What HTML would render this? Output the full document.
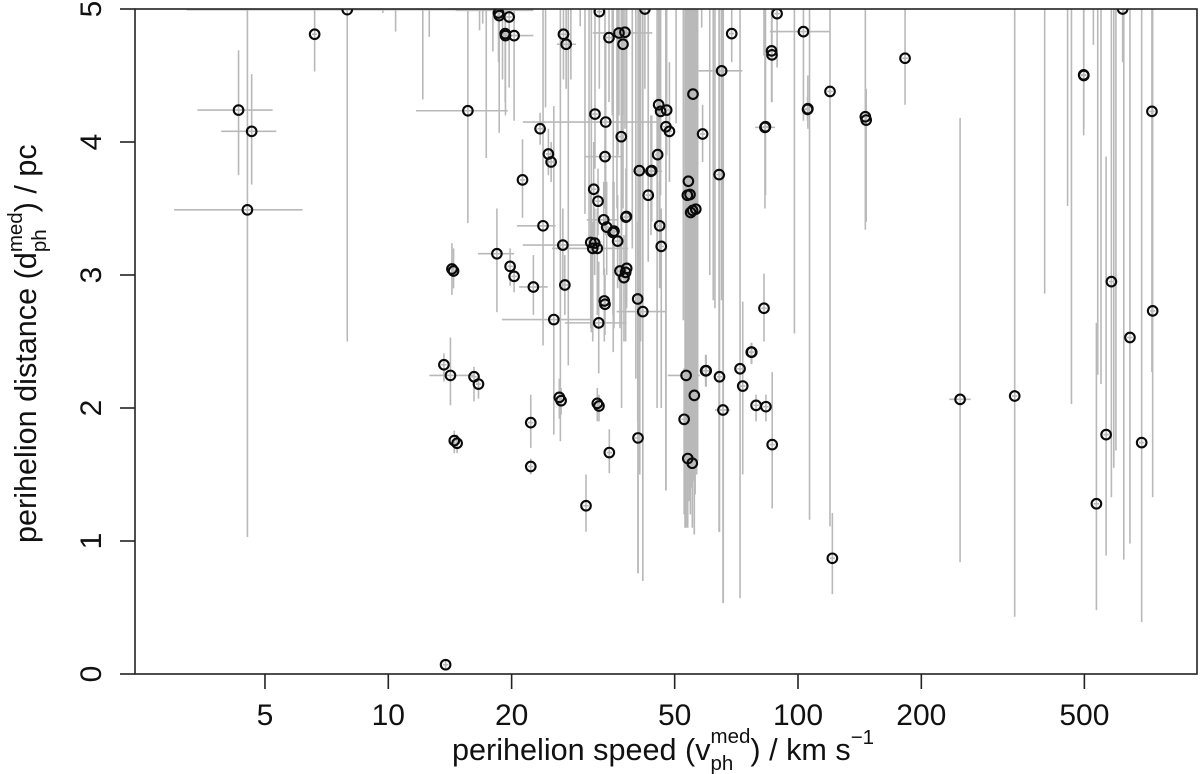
<!DOCTYPE html>
<html>
<head>
<meta charset="utf-8">
<title>Perihelion distance vs speed</title>
<style>
html,body{margin:0;padding:0;background:#fff;width:1200px;height:774px;overflow:hidden}
svg{display:block}
text{font-family:"Liberation Sans",Arial,sans-serif;fill:#111}
</style>
</head>
<body>
<svg id="chart" xmlns="http://www.w3.org/2000/svg" width="1200" height="774" viewBox="0 0 1200 774">
  <defs>
    <clipPath id="plot-clip"><rect x="135" y="9" width="1062" height="665"></rect></clipPath>
  </defs>
  <g id="bars-offscale" clip-path="url(#plot-clip)"></g>
  <g id="bars" clip-path="url(#plot-clip)"></g>
  <g id="points" clip-path="url(#plot-clip)"></g>
  <rect x="135" y="9" width="1062" height="665" fill="none" stroke="#222" stroke-width="1.6"></rect>
  <g id="x-axis"></g>
  <g id="y-axis"></g>
  <text x="452" y="760" font-size="30.6">perihelion speed (v<tspan font-size="20.5" dy="10">ph</tspan><tspan font-size="20.5" dx="-22.8" dy="-27">med</tspan><tspan dy="17">) / km s</tspan><tspan font-size="20.5" dy="-16">−1</tspan></text>
  <text transform="translate(36 543) rotate(-90)" x="0" y="0" font-size="30.6">perihelion distance (d<tspan font-size="20.5" dy="10">ph</tspan><tspan font-size="20.5" dx="-22.8" dy="-24">med</tspan><tspan dy="14">) / pc</tspan></text>
</svg>
<script>
const speed = [
4.31,4.64,4.53,6.61,7.94,13.67,13.8,14.18,14.3,14.43,
14.49,14.72,15.64,16.19,16.6,18.41,18.58,18.65,19.29,19.32,
19.72,19.83,20.28,20.28,21.26,22.27,22.27,22.6,23.47,23.86,
24.59,24.97,25.35,26.15,26.41,26.67,26.76,26.97,27.17,30.38,
31.2,31.55,31.72,31.9,31.95,32.37,32.37,32.5,32.63,32.68,
32.74,33.56,33.67,33.8,33.8,33.93,34.12,34.57,34.63,35.55,
35.35,36.29,36.56,36.77,37.04,37.4,37.6,37.81,37.96,38.02,
38.12,38.18,40.62,40.69,41,41.8,42.3,43.1,43.76,43.95,
45.44,45.7,45.95,46.2,46.37,47.6,47.8,48.55,52.73,53.32,
53.7,53.82,54,54.5,54.7,55.2,55.32,55.42,55.84,56.3,
58.5,59.5,59.7,64.2,64.33,65.1,65.6,68.9,72.2,73.3,
76.9,77.1,79,82.6,83.05,83.3,86.2,86.4,86.5,88.9,
103.1,105.5,105.7,119.7,121.3,146,146.7,182.5,248.7,338,
498,498.5,535,565,582,620,646,690,731,734,83.5];
const distance = [
4.24,4.08,3.49,4.81,4.995,2.325,0.07,2.245,3.045,3.03,
1.755,1.735,4.235,2.235,2.18,3.16,4.97,4.95,4.815,4.8,
4.94,3.065,2.99,4.8,3.715,1.89,1.56,2.91,4.1,3.37,
3.91,3.85,2.665,2.08,2.055,3.225,4.81,2.925,4.735,1.265,
3.245,3.2,3.645,3.24,4.21,3.2,2.035,3.555,2.64,2.015,
4.98,3.415,2.805,2.78,3.89,4.15,3.36,4.785,1.665,3.33,
3.32,3.255,4.82,3.03,4.04,4.735,2.98,4.825,3.02,3.435,
3.44,3.05,2.82,1.775,3.785,2.725,5,3.6,3.78,3.785,
3.905,4.28,3.37,4.23,3.215,4.115,4.24,4.08,1.915,2.245,
3.6,1.62,3.705,3.605,3.47,1.585,3.485,4.36,2.095,3.495,
4.06,2.28,2.28,3.755,2.235,4.535,1.985,4.815,2.295,2.165,
2.42,2.42,2.02,2.75,4.11,4.115,4.685,4.655,1.725,4.965,
4.83,4.245,4.25,4.38,0.87,4.19,4.165,4.63,2.065,2.09,
4.505,4.5,1.28,1.8,2.95,5,2.53,1.74,4.23,2.73,2.01];
const distLow = [
3.75,3.68,1.03,4.53,2.5,2.2,0.04,2.02,2.85,2.9,
1.66,1.66,3.39,2.05,2.07,2.72,4.6,4.07,4.3,4.2,
4.41,2.92,2.87,4.16,3.43,1.7,1.5,2.7,3.98,2.47,
3.75,3.7,1.8,1.92,1.95,2.9,4.47,2.7,4.4,1.07,
2.6,2.5,3.2,3.0,3.8,2.7,1.9,3.3,2.26,1.9,
4.4,3.0,2.5,2.55,3.5,3.3,3.0,4.3,1.51,2.6,
2.7,2.9,4.2,2.6,3.2,4.2,2.5,4.1,2.5,3.0,
3.1,2.8,1.9,0.76,2.6,0.7,4.4,3.1,3.3,3.4,
3.4,3.8,2.9,3.6,2.0,1.38,3.9,3.7,1.2,1.1,
1.9,1.1,2.0,1.9,1.7,1.1,1.5,1.5,1.05,1.6,
3.85,2.16,2.16,1.07,1.07,2.81,0.535,4.6,0.57,1.5,
2.33,2.33,1.9,2.5,3.5,3.6,4.3,4.3,1.245,4.56,
4.16,4.16,4.1,1.11,0.6,3.34,3.4,4.28,0.84,0.43,
4.05,4.1,0.48,0.89,1.33,4.6,0.98,0.39,2.27,1.33,1.9];
const distHigh = [
4.69,4.51,6,6,6,2.41,0.1,2.53,3.24,3.2,
1.83,1.8,6,2.31,2.25,3.5,6,6,6,6,
6,3.2,3.08,6,4.02,2.1,1.62,3.15,4.22,6,
4.1,4,4.27,2.22,2.15,3.5,6,3.15,6,1.5,
3.6,3.4,4,3.5,5,3.5,2.15,3.8,3.1,2.1,
6,3.7,3.05,3,4.2,4.8,3.7,6,1.84,3.7,
3.7,3.6,6,3.3,5,6,3.3,6,3.3,3.8,
3.8,3.3,3.4,2.8,6,6,6,6,4.2,4.2,
4.6,6,3.7,6,3.5,6,6,4.6,2.3,3,
6,2.5,6,6,6,2.2,6,6,3,6,
4.28,2.4,2.4,6,6,6,6,6,6,2.8,
2.49,2.49,2.1,3.01,6,6,6,6,2.27,6,
6,4.34,4.5,6,1.21,6,4.4,6,4.18,6,
6,6,2.64,3.89,6,6,6,6,6,6,2.1];
const speedLow = [
3.42,3.91,3.0,0,3.22,0,0,12.6,0,0,
0,0,11.69,0,0,16.55,0,0,0,0,
0,0,0,18.53,0,0,0,20.85,0,20.6,
0,0,18.94,0,0,21.3,25.96,0,25.8,0,
0,25.1,0,0,0,0,0,0,26.97,0,
0,30.5,0,0,30.2,21.3,0,0,0,0,
0,0,31.55,0,0,0,0,0,0,0,
0,0,0,0,0,36.08,0,0,39.6,0,
0,0,0,0,0,0,0,0,0,48.1,
0,0,0,0,0,0,0,0,0,0,
0,0,0,0,0,57.2,62.7,0,0,0,
0,0,0,0,78.5,0,0,0,0,0,
85.4,0,0,0,0,0,0,0,234,0,
0,0,0,0,0,0,0,0,0,0,0];
const speedHigh = [
5.22,5.33,6.18,0,14.7,0,0,16.2,0,0,
0,0,19.57,0,0,20.28,0,0,0,0,
0,0,0,22.6,0,0,0,24.5,0,25.6,
0,0,31.35,0,0,30.9,27.8,0,28.7,0,
0,38.5,0,0,0,0,0,0,38.18,0,
0,36.4,0,0,37.1,46,0,0,0,0,
0,0,44.1,0,0,0,0,0,0,0,
0,0,0,0,0,47.8,0,0,46.6,0,
0,0,0,0,0,0,0,0,0,57.6,
0,0,0,0,0,0,0,0,0,0,
0,0,0,0,0,73.1,68.3,0,0,0,
0,0,0,0,87.9,0,0,0,0,0,
119.7,0,0,0,0,0,0,0,264,0,
0,0,0,0,0,0,0,0,0,0,0];
const offscaleSpeed = [
9.7,10.42,12.14,12.59,16.7,17.34,17.0,18,19.0,24.2,
26.3,27.5,27.9,29.4,30.2,31.3,30.9,33.8,35.4,36.35,
36.15,37.1,38.18,40.2,40.7,41.1,41.3,41.8,43.1,45.3,
46,47.6,50.4,52.5,53,53.3,55.8,58.2,60.9,62.1,
62.7,64.2,65.7,98,106.7,400,455,465,526,539,
549,590,597,624,
53.6,53.9,54.1,54.3,54.6,54.8,55,55.2,55.4,55.6,
55.9,56.1,56.3,56.6,56.9,
35.2,37.4,39.4,82.6];
const offscaleLower = [
4.97,4.83,4.32,4.79,4.84,3.88,4.89,4.68,4.47,4.26,
1.75,2.32,4.47,4.87,3.46,2.57,3.2,4.2,2.42,3.9,
3.5,2,2.75,2.22,0.757,1.5,2.5,0.7,3.11,2,
2.91,1.38,4.14,2.66,1.1,1.11,1.05,4.86,3,2.81,
2.75,1.07,0.535,2.56,1.16,2.86,3.52,2.03,4.73,2.25,
2.18,1.55,1.68,0.86,
1.6,1.5,1.9,1.3,1.2,1.4,1.7,1.55,1.65,1.45,
1.8,1.35,1.75,1.5,1.6,
4.2,3.5,3.2,4.65];
const topBarSpeedLow = [14.6];
const topBarSpeedHigh = [22.6];
const topBarDistance = [4.99];
const xTickValues = [5,10,20,50,100,200,500];
const yTickValues = [0,1,2,3,4,5];

const NS = 'http://www.w3.org/2000/svg';
function xScale(v){ return 388.3 + 409.7 * (Math.log10(v) - 1); }
function yScale(d){ return 674 - 133 * d; }

function makeLine(parent, x1, y1, x2, y2, color, width){
  const l = document.createElementNS(NS, 'line');
  l.setAttribute('x1', x1);
  l.setAttribute('y1', y1);
  l.setAttribute('x2', x2);
  l.setAttribute('y2', y2);
  l.setAttribute('stroke', color);
  l.setAttribute('stroke-width', width);
  parent.appendChild(l);
  return l;
}

const GRAY = '#b9b9b9';
const offG = document.getElementById('bars-offscale');
offscaleSpeed.forEach(function(v, i){
  const l = makeLine(offG, xScale(v), yScale(6), xScale(v), yScale(offscaleLower[i]), GRAY, 1.6);
  
  
});
topBarDistance.forEach(function(d, i){
  const l = makeLine(offG, xScale(topBarSpeedLow[i]), yScale(d), xScale(topBarSpeedHigh[i]), yScale(d), GRAY, 1.6);
  
  
});

const barG = document.getElementById('bars');
const ptG = document.getElementById('points');
speed.forEach(function(v, i){
  const cx = xScale(v), cy = yScale(distance[i]);
  const vb = makeLine(barG, cx, yScale(distHigh[i]), cx, yScale(distLow[i]), GRAY, 1.6);
  
  
  const lo = speedLow[i] > 0 ? speedLow[i] : v * 0.985;
  const hi = speedHigh[i] > 0 ? speedHigh[i] : v * 1.015;
  const hb = makeLine(barG, xScale(lo), cy, xScale(hi), cy, GRAY, 1.6);
  
  
});
speed.forEach(function(v, i){
  const c = document.createElementNS(NS, 'circle');
  c.setAttribute('cx', xScale(v));
  c.setAttribute('cy', yScale(distance[i]));
  c.setAttribute('r', 4.8);
  c.setAttribute('fill', 'none');
  c.setAttribute('stroke', '#0a0a0a');
  c.setAttribute('stroke-width', 2.1);
  
  
  ptG.appendChild(c);
});

const xG = document.getElementById('x-axis');
xTickValues.forEach(function(v){
  const t = makeLine(xG, xScale(v), 674, xScale(v), 689, '#222', 1.6);
  
  
  const s = document.createElementNS(NS, 'text');
  s.setAttribute('x', xScale(v));
  s.setAttribute('y', 725);
  s.setAttribute('text-anchor', 'middle');
  s.setAttribute('font-size', 30);
  
  
  s.textContent = v;
  xG.appendChild(s);
});
const yG = document.getElementById('y-axis');
yTickValues.forEach(function(d){
  const t = makeLine(yG, 120, yScale(d), 135, yScale(d), '#222', 1.6);
  
  
  const s = document.createElementNS(NS, 'text');
  s.setAttribute('transform', 'translate(101 ' + yScale(d) + ') rotate(-90)');
  s.setAttribute('text-anchor', 'middle');
  s.setAttribute('font-size', 30);
  
  
  s.textContent = d;
  yG.appendChild(s);
});
</script>
</body>
</html>
